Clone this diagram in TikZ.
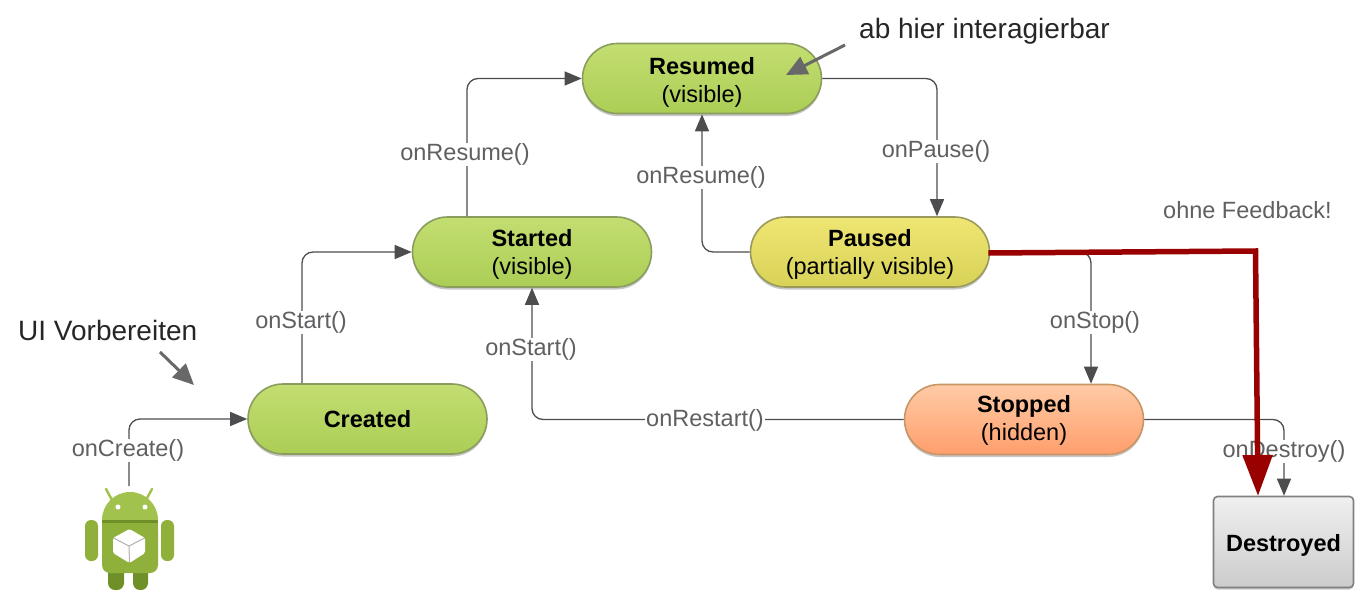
\documentclass[tikz,border=0pt]{standalone}
\usepackage{fontspec}
\setmainfont{Liberation Sans}
\usetikzlibrary{arrows.meta,shadows,calc}
\definecolor{conn}{HTML}{4D4D4F}
\definecolor{labelc}{HTML}{5F6062}
\definecolor{darkred}{HTML}{990000}
\definecolor{bot}{HTML}{8FB13C}
\definecolor{botlight}{HTML}{A2C24E}
\definecolor{botdark}{HTML}{6F9028}
\definecolor{gb1}{HTML}{C3DE71}
\definecolor{gb2}{HTML}{ABCD55}
\definecolor{gborder}{HTML}{8A9D5E}
\definecolor{yb1}{HTML}{EFE673}
\definecolor{yb2}{HTML}{D8D257}
\definecolor{yborder}{HTML}{999A5C}
\definecolor{ob1}{HTML}{FFCBA6}
\definecolor{ob2}{HTML}{FF9E6C}
\definecolor{oborder}{HTML}{C99566}
\newcommand\downstrut[1]{\rule{0pt}{#1pt}}
\tikzset{
 x=1pt,y=-1pt,
 statebox/.style={draw,line width=1.6pt,rounded corners=35pt,minimum width=239pt,minimum height=70pt,
   align=center,inner sep=0pt,font=\fontsize{23.5}{28}\selectfont,
   drop shadow={shadow xshift=0pt,shadow yshift=-2.5pt,opacity=.22,fill=black}},
 greenbox/.style={statebox,draw=gborder,top color=gb1,bottom color=gb2},
 connector/.style={draw=conn,line width=1.3pt,rounded corners=11pt,-{Triangle[length=17pt,width=14pt]}},
 calllabel/.style={fill=white,inner xsep=1pt,inner ysep=1pt,text=labelc,font=\fontsize{23.5}{26}\selectfont},
 notearrow/.style={draw=conn!85,line width=3pt,-{Triangle[length=21pt,width=19pt]}},
 redarrow/.style={draw=darkred,line width=5.5pt,-{Triangle[length=41pt,width=29pt]}},
 notetext/.style={inner sep=0pt,text=black!85,font=\fontsize{28}{32}\selectfont}
}
\begin{document}
\begin{tikzpicture}
\useasboundingbox (0,0) rectangle (1365,602);
% states
\node[greenbox] (resumed) at (702,78.5) {\downstrut{25}\textbf{Resumed}\\(visible)};
\node[greenbox] (started) at (532,252) {\downstrut{21}\textbf{Started}\\(visible)};
\node[greenbox] (created) at (367.5,419) {\textbf{Created}};
\node[statebox,draw=yborder,top color=yb1,bottom color=yb2] (paused) at (870,252) {\downstrut{21}\textbf{Paused}\\(partially visible)};
\node[statebox,draw=oborder,top color=ob1,bottom color=ob2] (stopped) at (1024,419.5) {\downstrut{19}\textbf{Stopped}\\(hidden)};
\node[draw=black!50,line width=1.6pt,rounded corners=4pt,minimum width=140pt,minimum height=91pt,
  top color=black!6,bottom color=black!20,inner sep=0pt,font=\fontsize{23.5}{28}\selectfont,
  drop shadow={shadow xshift=0pt,shadow yshift=-2pt,opacity=.2,fill=black}] (destroyed) at (1283.5,542) {\downstrut{23}\textbf{Destroyed}};
% android robot
\coordinate (robot) at (129,486);
\fill[bot,rounded corners=6pt] (85,520) rectangle (98,561);
\fill[bot,rounded corners=6pt] (161,520) rectangle (174,561);
\fill[botdark,rounded corners=7pt] (108,560) rectangle (124,590);
\fill[botdark,rounded corners=7pt] (133,560) rectangle (148,590);
\draw[botlight,line width=2.5pt,line cap=round] (112,500) -- (106,489);
\draw[botlight,line width=2.5pt,line cap=round] (146,500) -- (152,489);
\fill[botlight] (102,520) arc[start angle=180,end angle=360,radius=28] -- cycle;
\fill[botdark] (102,520) rectangle (158,522.5);
\fill[bot,rounded corners=8pt] (102,523) -- (158,523) -- (158,573) -- (102,573) -- cycle;
\fill[bot] (102,522.5) rectangle (158,535);
\fill[white] (118,507) circle[radius=2.5];
\fill[white] (145,507) circle[radius=2.5];
\fill[white,rounded corners=1.5pt] (129.5,529) -- (145,538) -- (145,553) -- (129.5,563) -- (113,553) -- (113,538) -- cycle;
\draw[black!30,line width=1pt] (113.5,538) -- (129,546) -- (144.5,538) (129,546) -- (129.5,562);
% connectors
\draw[connector] (robot) |- (created.west);
\draw[connector] ([xshift=-65.5pt]created.north) |- (started.west);
\draw[connector] ([xshift=-65pt]started.north) |- (resumed.west);
\draw[connector] (resumed.east) -| ([xshift=67pt]paused.north);
\draw[connector] (paused.west) -| (resumed.south);
\draw[connector] (paused.east) -| ([xshift=67pt]stopped.north);
\draw[connector] (stopped.west) -| (started.south);
\draw[connector] (stopped.east) -| ([xshift=.5pt]destroyed.north);
% labels
\node[calllabel] (l1) at (128,450.5) {onCreate()};
\node[calllabel] (l2) at (301,322.5) {onStart()};
\node[calllabel] (l3) at (465,154.5) {onResume()};
\node[calllabel] (l4) at (936,151.5) {onPause()};
\node[calllabel] (l5) at (701,177.5) {onResume()};
\node[calllabel] (l6) at (531,349.5) {onStart()};
\node[calllabel] (l7) at (705,420.5) {onRestart()};
\node[calllabel] (l8) at (1095,322.5) {onStop()};
\node[calllabel] (l9) at (1284,451.5) {onDestroy()};
% annotations
\node[notetext,anchor=west] (n1) at (859,31.5) {ab hier interagierbar};
\node[notetext,anchor=west] (n2) at (18,330.5) {UI Vorbereiten};
\node[inner sep=0pt,anchor=west,text=labelc,font=\fontsize{23.5}{26}\selectfont] (n3) at (1163,210.5) {ohne Feedback!};
\coordinate (a1s) at (845,45);
\coordinate (a1e) at (786,75);
\coordinate (a2s) at (160,352);
\coordinate (a2e) at (194,385);
\draw[notearrow] (a1s) -- (a1e);
\draw[notearrow] (a2s) -- (a2e);
% red path
\coordinate (rc) at (1255.5,251);
\coordinate (rh) at (1258,496);
\draw[redarrow] ([xshift=-2pt,yshift=-1pt]paused.east) -- (rc) -- (rh);
\end{tikzpicture}
\end{document}
